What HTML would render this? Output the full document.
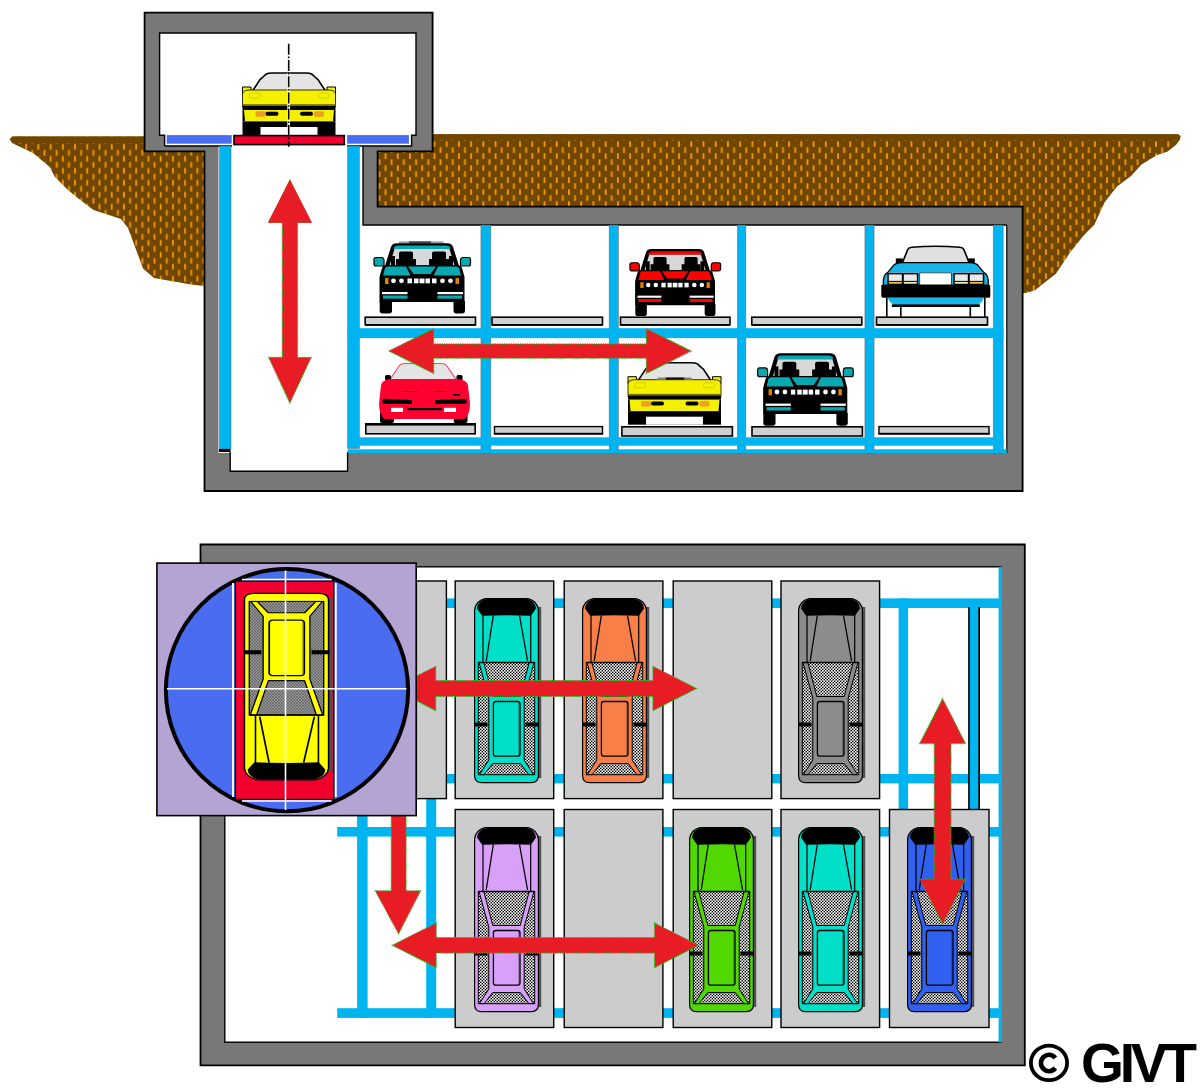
<!DOCTYPE html>
<html><head><meta charset="utf-8"><style>
html,body{margin:0;padding:0;background:#fff;}
svg{display:block;}
</style></head><body>
<svg width="1200" height="1088" viewBox="0 0 1200 1088">

<defs>
<pattern id="dirt" patternUnits="userSpaceOnUse" x="384.6" y="141" width="12.23" height="12">
  <rect width="12.23" height="12" fill="#714600"/>
  <rect x="0" y="0.3" width="1.8" height="5.6" fill="#F39A00"/>
  <rect x="6.115" y="6.3" width="1.8" height="5.6" fill="#F39A00"/>
</pattern>
<pattern id="dirtL" patternUnits="userSpaceOnUse" x="61.9" y="143.7" width="12.23" height="12">
  <rect width="12.23" height="12" fill="#714600"/>
  <rect x="0" y="0.3" width="1.8" height="5.6" fill="#F39A00"/>
  <rect x="6.115" y="6.3" width="1.8" height="5.6" fill="#F39A00"/>
</pattern>
<pattern id="chk2" patternUnits="userSpaceOnUse" width="3" height="3" patternTransform="scale(0.7576,-0.98717)">
  <rect width="3" height="3" fill="#808080"/>
  <rect x="0" y="0" width="1" height="1" fill="#fff"/>
  <rect x="2" y="2" width="1" height="1" fill="#fff"/>
  <rect x="2" y="0" width="1" height="1" fill="#000"/>
  <rect x="0" y="2" width="1" height="1" fill="#000"/>
</pattern>
<pattern id="chk" patternUnits="userSpaceOnUse" width="3" height="3">
  <rect width="3" height="3" fill="#9A9A9A"/>
  <rect x="0" y="0" width="1" height="1" fill="#fff"/>
  <rect x="2" y="2" width="1" height="1" fill="#fff"/>
  <rect x="2" y="0" width="1" height="1" fill="#000"/>
  <rect x="0" y="2" width="1" height="1" fill="#000"/>
</pattern>
</defs>

<polygon fill="url(#dirtL)" points="9.5,139 12.5,136.6 205,136.6 205,286 190.8,284.5 154,278 143,268.6 139,257.6 128,228 121,219 93.5,210 79,199 68,190 55,177 49.5,166.8 33,153 12,143"/>
<polygon fill="url(#dirt)" points="376,134.3 1178,134.3 1180.5,136 1180,139 1176.4,144.5 1167.7,151.4 1157.2,155 1141.5,164.5 1131,176 1117,186.4 1104.8,202 1094.3,224.8 1083.8,235.3 1069.9,252.7 1055.9,273.7 1043.7,283.3 1035,290.3 1026.2,293 1020,293 1020,320 376,320"/>
<path d="M12,136.6 H205 V143.3 H40 L33,143.3 L12,142.5 Z" fill="#714600"/>
<path d="M376,134.3 H1178 L1180.3,136.3 L1179.5,140.6 H376 Z" fill="#714600"/>
<path d="M144.6,12.6 H432.6 V151.3 H377.6 V206.6 H1022.6 V491 H204.5 V151.3 H144.6 Z" fill="#787878" stroke="#000" stroke-width="1.8"/>
<path d="M159.6,33 H416 V135.2 H411.6 V146 H363 V225 H1006.8 V453 H347.6 V471.2 H230.2 V453 H218.5 V146 H164.6 V135.2 H159.6 Z" fill="#fff"/>
<path d="M164.6,146 V135.2 H159.6 V33 H416 V135.2 H411.6 V146 H347" fill="none" stroke="#000" stroke-width="1.4"/>
<path d="M164.6,146 H232" fill="none" stroke="#000" stroke-width="1.4"/>
<path d="M363,146.5 V225 H1006.8" fill="none" stroke="#000" stroke-width="1.4"/>
<path d="M1006.8,225 V453" fill="none" stroke="#000" stroke-width="1.2"/>
<path d="M230.2,452 V471.2 H347.6 V452" fill="none" stroke="#000" stroke-width="1.4"/>
<rect x="166.7" y="135.1" width="65" height="8.6" fill="#4A6CF0"/>
<rect x="347.1" y="135.1" width="61.8" height="8.6" fill="#4A6CF0"/>
<rect x="480.9" y="225" width="9.9" height="228" fill="#00B4F0" stroke="#6a5048" stroke-width="0.8" stroke-opacity="0.55"/>
<rect x="609.2" y="225" width="9.2" height="228" fill="#00B4F0" stroke="#6a5048" stroke-width="0.8" stroke-opacity="0.55"/>
<rect x="737.4" y="225" width="8.4" height="228" fill="#00B4F0" stroke="#6a5048" stroke-width="0.8" stroke-opacity="0.55"/>
<rect x="864.9" y="225" width="9.2" height="228" fill="#00B4F0" stroke="#6a5048" stroke-width="0.8" stroke-opacity="0.55"/>
<rect x="993.3" y="225" width="9.9" height="228" fill="#00B4F0" stroke="#6a5048" stroke-width="0.8" stroke-opacity="0.55"/>
<rect x="219.6" y="146" width="11.4" height="303" fill="#00B4F0" stroke="#6a5048" stroke-width="0.8" stroke-opacity="0.55"/>
<rect x="347.6" y="146" width="11.8" height="302.5" fill="#00B4F0" stroke="#6a5048" stroke-width="0.8" stroke-opacity="0.55"/>
<rect x="347.6" y="328.2" width="655.8" height="9.9" fill="#00B4F0"/>
<rect x="347.6" y="437.3" width="655.8" height="8.4" fill="#00B4F0"/>
<rect x="347.6" y="449.3" width="659" height="3.8" fill="#00B4F0"/>
<rect x="219" y="449" width="11.5" height="3" fill="#000"/>
<rect x="365.2" y="317.2" width="110.3" height="7.6" fill="#D0D0D0" stroke="#000" stroke-width="1.6"/>
<rect x="365.2" y="324" width="110.3" height="1.8" fill="#000"/>
<rect x="492" y="317.2" width="110.5" height="7.6" fill="#D0D0D0" stroke="#000" stroke-width="1.6"/>
<rect x="492" y="324" width="110.5" height="1.8" fill="#000"/>
<rect x="620.5" y="317.2" width="109.5" height="7.6" fill="#D0D0D0" stroke="#000" stroke-width="1.6"/>
<rect x="620.5" y="324" width="109.5" height="1.8" fill="#000"/>
<rect x="751.8" y="317.2" width="110.0" height="7.6" fill="#D0D0D0" stroke="#000" stroke-width="1.6"/>
<rect x="751.8" y="324" width="110.0" height="1.8" fill="#000"/>
<rect x="876.5" y="317.2" width="111.0" height="7.6" fill="#D0D0D0" stroke="#000" stroke-width="1.6"/>
<rect x="876.5" y="324" width="111.0" height="1.8" fill="#000"/>
<rect x="621.9" y="426.8" width="110.5" height="9.2" fill="#D0D0D0" stroke="#000" stroke-width="1.6"/>
<rect x="752" y="426.8" width="110.4" height="9.2" fill="#D0D0D0" stroke="#000" stroke-width="1.6"/>
<rect x="494.5" y="426.6" width="108.0" height="7.2" fill="#D0D0D0" stroke="#000" stroke-width="1.4"/>
<rect x="493.8" y="432.8" width="109.4" height="1.8" fill="#000"/>
<rect x="879" y="426.6" width="110.0" height="7.2" fill="#D0D0D0" stroke="#000" stroke-width="1.4"/>
<rect x="878.3" y="432.8" width="111.4" height="1.8" fill="#000"/>
<rect x="365.8" y="424" width="109.4" height="9.8" fill="#D0D0D0" stroke="#000" stroke-width="1.6"/>
<rect x="365" y="423" width="111" height="2.6" fill="#000"/>
<path d="M200.5,544.5 H1024.8 V1065.4 H200.5 Z" fill="#787878" stroke="#000" stroke-width="1.8"/>
<rect x="224.8" y="566.8" width="776.4" height="475.4" fill="#fff" stroke="#000" stroke-width="1.4"/>
<rect x="337.2" y="598.4" width="663.4" height="9.6" fill="#00B4F0"/>
<rect x="337.2" y="774" width="663.4" height="9.4" fill="#00B4F0"/>
<rect x="337.2" y="827" width="663.4" height="9.6" fill="#00B4F0"/>
<rect x="337.2" y="1008.2" width="663.4" height="9.7" fill="#00B4F0"/>
<rect x="357.1" y="598.4" width="10.5" height="419.5" fill="#00B4F0"/>
<rect x="426.2" y="598.4" width="10" height="419.5" fill="#00B4F0"/>
<rect x="898.6" y="598.4" width="9.5" height="419.5" fill="#00B4F0"/>
<rect x="998.6" y="566.8" width="3.4" height="475.4" fill="#00B4F0"/>
<rect x="969.6" y="607" width="8.9" height="420" fill="#00B4F0"/>
<path d="M969,607 V1000 M979.1,607 V1000" stroke="#000" stroke-width="1.7"/>
<rect x="455.2" y="581" width="98.5" height="217.6" fill="#CCCCCC" stroke="#000" stroke-width="1.4"/>
<rect x="564.2" y="581" width="98.7" height="217.6" fill="#CCCCCC" stroke="#000" stroke-width="1.4"/>
<rect x="673.2" y="581" width="98.6" height="217.6" fill="#CCCCCC" stroke="#000" stroke-width="1.4"/>
<rect x="781" y="581" width="98.6" height="217.6" fill="#CCCCCC" stroke="#000" stroke-width="1.4"/>
<rect x="416.4" y="581" width="30" height="217.6" fill="#CCCCCC" stroke="#000" stroke-width="1.4"/>
<rect x="455.2" y="809.5" width="98.5" height="218" fill="#CCCCCC" stroke="#000" stroke-width="1.4"/>
<rect x="564.2" y="809.5" width="98.7" height="218" fill="#CCCCCC" stroke="#000" stroke-width="1.4"/>
<rect x="673.2" y="809.5" width="98.6" height="218" fill="#CCCCCC" stroke="#000" stroke-width="1.4"/>
<rect x="781" y="809.5" width="98.6" height="218" fill="#CCCCCC" stroke="#000" stroke-width="1.4"/>
<rect x="889.5" y="809.5" width="99.5" height="218" fill="#CCCCCC" stroke="#000" stroke-width="1.4"/>
<defs>
<g id="topcar">
 <rect x="64" y="9" width="3.2" height="171" fill="#505050"/>
 <path d="M0.6,12 Q1.5,3 11,0.6 H54 Q63.5,3 64.4,12 V177.5 Q64.4,184.6 57.5,184.6 H7.5 Q0.6,184.6 0.6,177.5 Z" fill="currentColor" stroke="#000" stroke-width="1.2"/>
 <rect x="4.3" y="64.5" width="56.4" height="112.2" fill="url(#chk)" stroke="#000" stroke-width="1"/>
 <path d="M5,64.5 L9.8,64.5 L18.8,98.5 H46.2 L55.2,64.5 L60,64.5 L50.2,100 V162 L59.6,176.6 H54.8 L46.4,165.6 H18.6 L10.2,176.6 H5.4 L14.8,162 V100 Z" fill="currentColor" stroke="#000" stroke-width="1" stroke-linejoin="round"/>
 <rect x="19.4" y="103.5" width="26.6" height="54.7" rx="2.5" fill="currentColor" stroke="#000" stroke-width="1.3"/>
 <path d="M44.8,105 V157" stroke="#000" stroke-opacity="0.25" stroke-width="1.5"/>
 <path d="M9,11 V64.5 M56.7,11 V64.5" stroke="#000" stroke-width="1.2"/>
 <path d="M4.3,64.5 H60.7" stroke="#000" stroke-width="1.5"/>
 <path d="M19.3,17.5 L12.2,63 M45.5,17.5 L53.6,63" stroke="#000" stroke-width="1.3"/>
 <path d="M3,10.5 Q4,2 12.5,1 H52.5 Q61,2 62,10.5 L56.9,17.8 Q32.5,16.5 8.1,17.8 Z" fill="#000"/>
 <rect x="0" y="124.5" width="13.5" height="4" fill="#000"/>
 <rect x="51.5" y="124.5" width="13.5" height="4" fill="#000"/>
</g>

<g id="topcar2">
 <rect x="64" y="9" width="3.2" height="171" fill="#505050"/>
 <path d="M0.6,12 Q1.5,3 11,0.6 H54 Q63.5,3 64.4,12 V177.5 Q64.4,184.6 57.5,184.6 H7.5 Q0.6,184.6 0.6,177.5 Z" fill="currentColor" stroke="#000" stroke-width="1.2"/>
 <rect x="4.3" y="64.5" width="56.4" height="112.2" fill="url(#chk2)" stroke="#000" stroke-width="1"/>
 <path d="M5,64.5 L9.8,64.5 L18.8,98.5 H46.2 L55.2,64.5 L60,64.5 L50.2,100 V162 L59.6,176.6 H54.8 L46.4,165.6 H18.6 L10.2,176.6 H5.4 L14.8,162 V100 Z" fill="currentColor" stroke="#000" stroke-width="1" stroke-linejoin="round"/>
 <rect x="19.4" y="103.5" width="26.6" height="54.7" rx="2.5" fill="currentColor" stroke="#000" stroke-width="1.3"/>
 <path d="M44.8,105 V157" stroke="#000" stroke-opacity="0.25" stroke-width="1.5"/>
 <path d="M9,11 V64.5 M56.7,11 V64.5" stroke="#000" stroke-width="1.2"/>
 <path d="M4.3,64.5 H60.7" stroke="#000" stroke-width="1.5"/>
 <path d="M19.3,17.5 L12.2,63 M45.5,17.5 L53.6,63" stroke="#000" stroke-width="1.3"/>
 <path d="M3,10.5 Q4,2 12.5,1 H52.5 Q61,2 62,10.5 L56.9,17.8 Q32.5,16.5 8.1,17.8 Z" fill="#000"/>
 <rect x="0" y="124.5" width="13.5" height="4" fill="#000"/>
 <rect x="51.5" y="124.5" width="13.5" height="4" fill="#000"/>
</g>

<g id="vette">
 <path d="M10.5,18 L18,6.5 L20,5 L24,1.2 Q26,0 30,0 H64 Q68,0 70,1.2 L74,5 L76,6.5 L83.5,18 Z" fill="#E4E4E4" stroke="#000" stroke-width="1.6"/>
 <path d="M0.5,14 H9 V21 H0.5 Z M85,14 H93.5 V21 H85 Z" fill="currentColor" stroke="#000" stroke-width="1"/>
 <path d="M0.5,21 Q1,17 8,17 H86 Q93,17 93.5,21 V34 H0.5 Z" fill="currentColor" stroke="#000" stroke-width="0.8"/>
 <rect x="7" y="20" width="11" height="5" rx="2" fill="none" stroke="#C8C800" stroke-width="0.8"/>
 <rect x="76" y="20" width="11" height="5" rx="2" fill="none" stroke="#C8C800" stroke-width="0.8"/>
 <rect x="0.5" y="31.2" width="93" height="2" fill="#6E6E00"/>
 <rect x="0.5" y="33" width="93" height="4" fill="#000"/>
 <rect x="0.5" y="37" width="93" height="11.5" fill="#000"/>
 <path d="M2,37 H92 L91,48.5 H3 Z" fill="currentColor"/>
 <rect x="13.5" y="38.2" width="10" height="5.5" rx="1.5" fill="#F0A020"/>
 <rect x="72" y="38.2" width="10" height="5.5" rx="1.5" fill="#F0A020"/>
 <rect x="23.5" y="38.8" width="13" height="4" rx="2" fill="#000"/>
 <rect x="58" y="38.8" width="13" height="4" rx="2" fill="#000"/>

 <rect x="0.5" y="48.5" width="93" height="13.5" fill="#000"/>
 <rect x="18.5" y="54" width="57" height="8" fill="#fff"/>
</g>

<g id="vette2">
 <path d="M11,16 L19,4 Q21,0 26,0 H62 Q67,0 69,4 L77,16 Z" fill="#E4E4E4" stroke="#E8506A" stroke-width="1.2"/>
 <rect x="6" y="11.5" width="6" height="5.5" rx="1.5" fill="#000"/>
 <rect x="77.5" y="11.5" width="6" height="5.5" rx="1.5" fill="#000"/>
 <rect x="1" y="46" width="14" height="13.5" rx="2" fill="#000"/>
 <rect x="74.5" y="46" width="14" height="13.5" rx="2" fill="#000"/>
 <path d="M2,22 Q3,16 12,15.5 H78 Q88,16 89,22 L91,40 Q91,52 85,55.5 H6 Q0,52 0,40 Z" fill="currentColor"/>
 <path d="M3.5,36 Q4,35 8,35.5 L33,36.5 V40.5 L8,40.5 Q4,40.5 3.5,39 Z" fill="#000"/>
 <path d="M87.5,36 Q87,35 83,35.5 L56,36.5 V40.5 L83,40.5 Q87,40.5 87.5,39 Z" fill="#000"/>
 <rect x="12" y="44.3" width="12" height="4.2" fill="#fff"/>
 <rect x="65" y="44.3" width="12" height="4.2" fill="#fff"/>
 <rect x="28" y="44.5" width="35" height="2.2" rx="1" fill="#000"/>
 <path d="M24,28 H39 M56,28 H67" stroke="#800" stroke-width="0.8"/>
 <rect x="74" y="30.5" width="7" height="1.5" fill="#000"/>
 <rect x="15" y="55.5" width="59.5" height="4" fill="#fff"/>
</g>

<g id="bmw">
 <path d="M13,25 L19,6 Q20,3.2 24,3.2 H74 Q78,3.2 79,6 L85,25 Z" fill="#000" stroke="#000" stroke-width="2"/>
 <path d="M21,6.6 Q22,4.4 25,4.4 H73 Q76,4.4 77,6.6 L77.5,8 H20.5 Z" fill="currentColor"/>
 <path d="M16.5,24.5 L21.5,8 H76.5 L81.5,24.5 Z" fill="#D8D8D8"/>
 <path d="M26,12 Q26,10.5 28,10.5 H38 Q40,10.5 40,12 V18 H43 V24.5 H23 V18 H26 Z" fill="#000"/>
 <path d="M59,12 Q59,10.5 61,10.5 H71 Q73,10.5 73,12 V18 H76 V24.5 H56 V18 H59 Z" fill="#000"/>
 <rect x="18" y="15" width="4" height="10" fill="#000"/>
 <rect x="76" y="15" width="4" height="10" fill="#000"/>
 <path d="M1,18 Q1,16.5 3,16.5 H9 Q11,17 11,19 V25 H3 Q1,25 1,23 Z" fill="currentColor" stroke="#000" stroke-width="1.2"/>
 <path d="M97.5,18 Q97.5,16.5 95.5,16.5 H89.5 Q87.5,17 87.5,19 V25 H95.5 Q97.5,25 97.5,23 Z" fill="currentColor" stroke="#000" stroke-width="1.2"/>
 <path d="M6.5,36 L9,27 Q10,24.3 14,24.3 H84 Q88,24.3 89,27 L91.5,36 V61 H6.5 Z" fill="#000"/>
 <path d="M10,34.5 L12,27 Q12.5,25.5 15,25.5 H33 L37.5,34.5 Z" fill="currentColor"/>
 <path d="M88,34.5 L86,27 Q85.5,25.5 83,25.5 H65 L60.5,34.5 Z" fill="currentColor"/>
 <path d="M35,25.5 H63 L57.5,33 H40.5 Z" fill="currentColor"/>
 <path d="M12,37 H86 V42.5 H12 Z" fill="#000"/>
 <g fill="#fff">
  <circle cx="20.5" cy="39.8" r="2.4"/><circle cx="28.5" cy="39.8" r="2.4"/>
  <rect x="34.5" y="37.5" width="4.5" height="4.8"/><rect x="41" y="37.5" width="4.5" height="4.8"/>
  <rect x="52.5" y="37.5" width="4.5" height="4.8"/><rect x="59" y="37.5" width="4.5" height="4.8"/>
  <circle cx="69.5" cy="39.8" r="2.4"/><circle cx="77.5" cy="39.8" r="2.4"/>
  <rect x="46.5" y="37.5" width="5" height="4.8"/>
 </g>
 <rect x="12" y="37" width="3.5" height="6" fill="#E08000"/>
 <rect x="82.5" y="37" width="3.5" height="6" fill="#E08000"/>
 <rect x="9" y="51" width="25.5" height="2.2" fill="#fff"/>
 <rect x="64.5" y="51" width="25.5" height="2.2" fill="#fff"/>
 <rect x="10" y="54.5" width="24.5" height="3.2" fill="currentColor"/>
 <rect x="64.5" y="54.5" width="24.5" height="3.2" fill="currentColor"/>
 <path d="M6.7,60 H19 V70 Q19,72.4 16,72.4 H9.5 Q6.7,72.4 6.7,70 Z" fill="#000"/>
 <path d="M80.5,60 H92 V70 Q92,72.4 89.5,72.4 H83 Q80.5,72.4 80.5,70 Z" fill="#000"/>
</g>

<g id="bluecar">
 <path d="M6,51 V70.4 M20,55 V70.4 M89.5,55 V70.4 M104,51 V70.4" stroke="#000" stroke-width="1.6"/>
 <path d="M21.5,16.5 L27,3 Q28,1 31,0.8 Q55,-1 79,0.8 Q82,1 83,3 L88.5,16.5 Z" fill="#E0E0E0" stroke="#000" stroke-width="1.6"/>
 <rect x="15" y="12" width="7" height="5" fill="#000"/>
 <rect x="87" y="12" width="7" height="5" fill="#000"/>
 <path d="M8,26 L12,20 Q14,16.5 22,16.3 H88 Q96,16.5 98,20 L102,26 Z" fill="currentColor"/>
 <path d="M2.5,38.5 Q2,28 8,26 H102 Q108,28 107.5,38.5 Z" fill="currentColor"/>
 <path d="M2.5,38.5 Q2,28 7,26 L12,20 Q14,16.5 22,16.3 H88 Q96,16.5 98,20 L103,26 Q108,28 107.5,38.5" fill="none" stroke="#000" stroke-width="1.3"/>
 <rect x="6.5" y="26.5" width="31" height="12" fill="#000"/>
 <rect x="72.5" y="26.5" width="31" height="12" fill="#000"/>
 <rect x="8" y="28" width="13" height="6.5" fill="#EAEAEA"/>
 <rect x="23" y="28" width="13" height="6.5" fill="#EAEAEA"/>
 <rect x="74" y="28" width="13" height="6.5" fill="#EAEAEA"/>
 <rect x="89" y="28" width="13" height="6.5" fill="#EAEAEA"/>
 <rect x="8" y="35.5" width="13" height="1.8" fill="#F0C040"/>
 <rect x="23" y="35.5" width="13" height="1.8" fill="#F4F0C0"/>
 <rect x="74" y="35.5" width="13" height="1.8" fill="#F4F0C0"/>
 <rect x="89" y="35.5" width="13" height="1.8" fill="#F0C040"/>
 <rect x="39" y="26.5" width="31.5" height="12.5" fill="#fff" stroke="#000" stroke-width="0.6"/>
 <path d="M0.5,40 Q0,38.2 3,38.2 H106.5 Q109.5,38.2 109.5,40 V49.5 Q109.5,51.4 106.5,51.4 H3 Q0.5,51.4 0.5,49.5 Z" fill="#000"/>
 <path d="M7,51.4 H103 Q101,57 97,58.5 H13 Q9,57 7,51.4 Z" fill="currentColor"/>
 <rect x="11" y="58" width="88" height="2.6" fill="#000"/>
</g>
</defs>
<use href="#vette" transform="translate(242,73)" style="color:#F4F000"/>
<rect x="399" y="241.4" width="44.5" height="2" fill="#9A9A9A"/><rect x="409" y="241.4" width="22" height="2" fill="#404040"/>
<use href="#bmw" transform="translate(373,241)" style="color:#08A8B0"/>
<rect x="650" y="249.2" width="42" height="2" fill="#9A9A9A"/><rect x="662" y="249.2" width="20" height="2" fill="#3a0000"/>
<use href="#bmw" transform="translate(629,247) scale(0.94,0.954)" style="color:#FF0000"/>
<use href="#bluecar" transform="translate(880.8,246.4)" style="color:#18B4E8"/>
<use href="#vette2" transform="translate(379,363.5)" style="color:#FF0030"/>
<use href="#vette" transform="translate(627.5,362.7)" style="color:#F4F000"/>
<rect x="657.5" y="377.5" width="34" height="2.3" fill="#808080"/><rect x="665.8" y="377.5" width="18.4" height="2.3" fill="#111"/>
<use href="#bmw" transform="translate(756.7,350.9) scale(0.99,1.033)" style="color:#08A8B0"/>
<rect x="234" y="135.6" width="110.3" height="9" fill="#F0002C" stroke="#000" stroke-width="1.6"/>
<path d="M288.7,73 V135" stroke="#fff" stroke-width="2.8"/>
<path d="M288.7,43.8 V146.8" stroke="#000" stroke-width="1.6" stroke-dasharray="11 1.8 1.6 1.8"/>
<path d="M289.9,180.3 L311.3,222.5 H297.6 V357.3 H311.3 L289.9,403.2 L268.5,357.3 H282.2 V222.5 H268.5 Z" fill="#E81C24" stroke="#1EC01E" stroke-width="1.1" stroke-dasharray="1.3 1" stroke-linejoin="miter"/>
<path d="M289.9,179.6 L311.9,222.8 H267.9 Z" fill="#E81C24"/>
<path d="M388.75,351.1 L433.75,328.6 V343.90000000000003 H646.25 V328.6 L691.25,351.1 L646.25,373.6 V358.3 H433.75 V373.6 Z" fill="#E81C24" stroke="#1EC01E" stroke-width="1.1" stroke-dasharray="1.3 1" stroke-linejoin="miter"/>
<use href="#topcar" transform="translate(474,598)" style="color:#00E0C8"/>
<use href="#topcar" transform="translate(582,598)" style="color:#F88048"/>
<use href="#topcar" transform="translate(798,598)" style="color:#8C8C8C"/>
<use href="#topcar" transform="translate(474,827)" style="color:#D8A0F8"/>
<use href="#topcar" transform="translate(689,827)" style="color:#50D800"/>
<use href="#topcar" transform="translate(798,827)" style="color:#00E0C8"/>
<use href="#topcar" transform="translate(907,827)" style="color:#3060F0"/>
<path d="M392,688.5 L435.8,666.3 V680.6 H652.9000000000001 V666.3 L696.7,688.5 L652.9000000000001,710.7 V696.4 H435.8 V710.7 Z" fill="#E81C24" stroke="#1EC01E" stroke-width="1.1" stroke-dasharray="1.3 1" stroke-linejoin="miter"/>
<path d="M392.2,945.3 L436.2,922.9 V937.5 H654.5 V922.9 L698.5,945.3 L654.5,967.6999999999999 V953.0999999999999 H436.2 V967.6999999999999 Z" fill="#E81C24" stroke="#1EC01E" stroke-width="1.1" stroke-dasharray="1.3 1" stroke-linejoin="miter"/>
<path d="M942.6,698.6 L965.6,743.6 H951.0 V879 H965.6 L942.6,924 L919.6,879 H934.2 V743.6 H919.6 Z" fill="#E81C24" stroke="#1EC01E" stroke-width="1.1" stroke-dasharray="1.3 1" stroke-linejoin="miter"/>
<path d="M391.2,805 H406.1 V890.8 H420.6 L398.6,934 L375.2,890.8 H391.2 Z" fill="#E81C24" stroke="#1EC01E" stroke-width="1.1" stroke-dasharray="1.3 1" stroke-linejoin="miter"/>
<rect x="156.9" y="563.1" width="259.3" height="252.5" fill="#B4A4D4" stroke="#000" stroke-width="1.6"/>
<circle cx="287" cy="690.2" r="121.1" fill="#4A6CF0" stroke="#000" stroke-width="4"/>
<rect x="235.4" y="581" width="98.4" height="218.4" fill="#F0002C" stroke="#000" stroke-width="1.2"/>
<path d="M233,583 V797 M335.8,583 V797" stroke="#fff" stroke-width="1.9"/>
<path d="M242,579.5 H331.5 M242,801 H331.5" stroke="#fff" stroke-width="1.6"/>
<use href="#topcar2" transform="translate(243.6,780.4) scale(1.32,-1.013)" style="color:#FFFF00"/>
<path d="M167,688.7 H406.5 M285.5,570.5 V810" stroke="#fff" stroke-width="1.6"/>
<ellipse cx="1049" cy="1062.9" rx="18.1" ry="17.2" fill="none" stroke="#000" stroke-width="3.8"/>
<path d="M1055.3,1058 A8,8.2 0 1 0 1055.3,1068" fill="none" stroke="#000" stroke-width="4.6"/>
<text x="1081" y="1082" font-family="Liberation Sans, sans-serif" font-weight="bold" font-size="55.2" letter-spacing="-4.3" fill="#000">GIVT</text>
</svg>
</body></html>
